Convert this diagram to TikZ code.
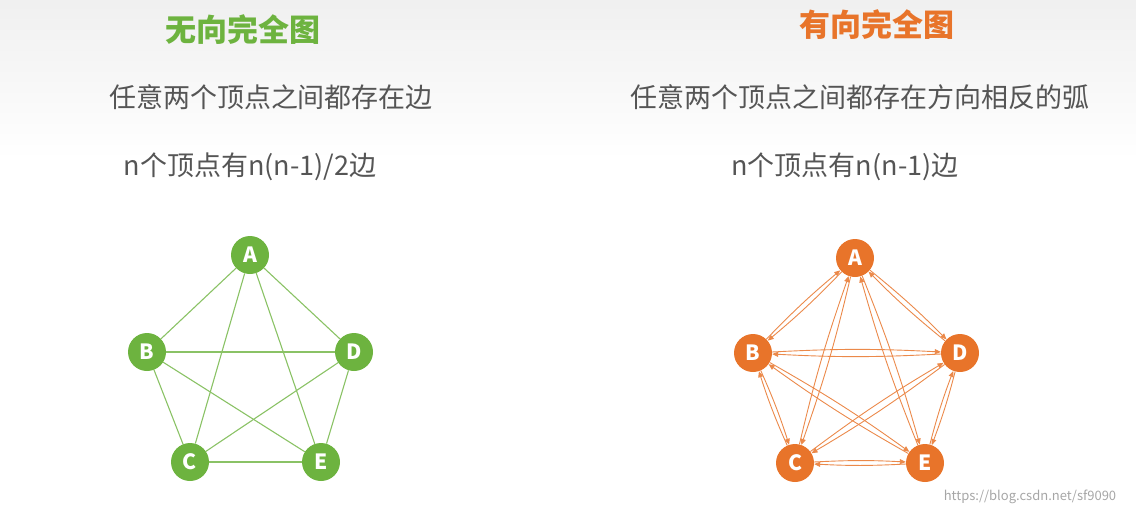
\documentclass[tikz,border=0pt]{standalone}
\usepackage{fontspec}
\setmainfont{Noto Sans CJK SC}
\usetikzlibrary{arrows.meta}
\definecolor{gr}{HTML}{6DB33F}
\definecolor{og}{HTML}{E8742A}
\definecolor{tx}{HTML}{555555}
\begin{document}
\begin{tikzpicture}[x=1pt,y=-1pt,
  gnode/.style={circle,fill=gr,text=white,font=\bfseries\fontsize{21}{21}\selectfont,minimum size=38pt,inner sep=0pt},
  onode/.style={circle,fill=og,text=white,font=\bfseries\fontsize{21}{21}\selectfont,minimum size=38pt,inner sep=0pt},
  gedge/.style={draw=gr!80,line width=1.1pt},
  oedge/.style={draw=og!85,line width=0.9pt,-{Triangle[length=6pt,width=5pt]},bend left=3},
  body/.style={text=tx,font=\fontsize{27}{27}\selectfont}]
\useasboundingbox (0,0) rectangle (1136,517);
\shade[top color=gray!12,bottom color=white] (0,0) rectangle (1136,160);
\node[text=gr,font=\bfseries\fontsize{31}{31}\selectfont] (t1) at (243,30) {无向完全图};
\node[text=og,font=\bfseries\fontsize{31}{31}\selectfont] (t2) at (877,25) {有向完全图};
\node[body] (l1) at (271,97) {任意两个顶点之间都存在边};
\node[body] (l2) at (250,167) {n个顶点有n(n-1)/2边};
\node[body] (r1) at (860,97) {任意两个顶点之间都存在方向相反的弧};
\node[body] (r2) at (845,167) {n个顶点有n(n-1)边};
\node[text=gray!70,font=\fontsize{13}{13}\selectfont] (wm) at (1030,497) {https://blog.csdn.net/sf9090};
% left
\node[gnode] (A) at (250,255) {A};
\node[gnode] (B) at (147,352) {B};
\node[gnode] (D) at (354,352) {D};
\node[gnode] (C) at (190,462) {C};
\node[gnode] (E) at (321,462) {E};
\foreach \u/\v in {A/B,A/C,A/D,A/E,B/C,B/D,B/E,C/D,C/E,D/E}
  \path[gedge] (\u) -- (\v);
% right
\node[onode] (A2) at (855,258) {A};
\node[onode] (B2) at (753,353) {B};
\node[onode] (D2) at (960,353) {D};
\node[onode] (C2) at (795,463) {C};
\node[onode] (E2) at (925,463) {E};
\foreach \u/\v in {A2/B2,A2/C2,A2/D2,A2/E2,B2/C2,B2/D2,B2/E2,C2/D2,C2/E2,D2/E2}{
  \path[oedge] (\u) to (\v);
  \path[oedge] (\v) to (\u);}
\end{tikzpicture}
\end{document}
